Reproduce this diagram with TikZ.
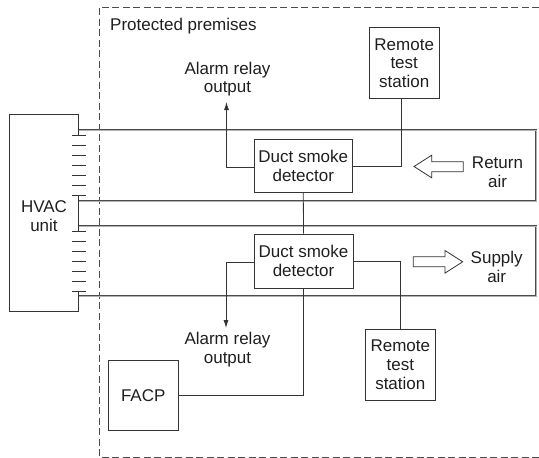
\documentclass[tikz,border=0pt]{standalone}
\usepackage{fontspec}
\setmainfont{Liberation Sans}
\usetikzlibrary{arrows.meta}
\begin{document}
\begin{tikzpicture}[x=1pt,y=-1pt,
  every node/.style={font=\fontsize{17}{18.7}\selectfont, text=black!88},
  box/.style={draw=black!80, line width=0.9pt, inner sep=0pt, align=center},
  outline/.style={draw=black!80, line width=0.9pt},
  wire/.style={draw=black!80, line width=0.8pt},
  duct/.style={draw=black!70, line width=0.45pt, double=black!30, double distance=0.9pt},
  zone/.style={draw=black!70, line width=0.9pt, dash pattern=on 7pt off 3.5pt},
  flow/.style={draw=black!80, line width=0.8pt, fill=white, line join=miter},
  lbl/.style={align=center, inner sep=0pt},
  tip/.style={-{Latex[length=8pt,width=5pt]}}
]
\useasboundingbox (0,0) rectangle (539,458);

% protected premises boundary
\draw[zone] (539,7) -- (99,7) -- (99,457) -- (539,457);
\node[anchor=base west, inner sep=0pt] (pp) at (110,30) {Protected premises};

% ducts
\draw[duct] (78,130) -- (536,130) -- (536,201) -- (78,201);
\draw[duct] (78,226) -- (536,226) -- (536,296) -- (78,296);

% HVAC unit
\node[lbl] (hvac) at (44,216.4) {HVAC\\unit};
\draw[outline] (78,135) -- (78,114) -- (9,114) -- (9,311) -- (78,311) -- (78,291);
\draw[outline] (78,195) -- (78,231);
\foreach \y in {135,145,...,195} \draw[wire] (72,\y) -- (86,\y);
\foreach \y in {231,241,...,291} \draw[wire] (72,\y) -- (86,\y);

% boxes
\node[box, minimum width=98.7, minimum height=53.7] (d1) at (303.3,165.9) {Duct smoke\\detector};
\node[box, minimum width=99, minimum height=54.3] (d2) at (303.5,261.2) {Duct smoke\\detector};
\node[box, minimum width=69.7, minimum height=70.6] (rt1) at (404.2,63) {Remote\\test\\station};
\node[box, minimum width=69.3, minimum height=70.7] (rt2) at (400.3,364.7) {Remote\\test\\station};
\node[box, minimum width=69.7, minimum height=70.7] (facp) at (143.2,395.3) {FACP};

% alarm relay outputs
\node[lbl] (out1) at (227.5,79.1) {Alarm relay\\output};
\node[lbl] (out2) at (227.5,349.6) {Alarm relay\\output};
\coordinate (t1) at (226.5,102);
\coordinate (t2) at (226,328);
\draw[wire,tip] ([yshift=-1pt]d1.west) -| (t1);
\draw[wire,tip] ([yshift=-1.5pt]d2.west) -| (t2);

% wiring
\draw[wire] (d1.east) -| ([xshift=-3pt]rt1.south);
\draw[wire] ([yshift=-0.5pt]d2.east) -| (rt2.north);
\draw[wire] (d1.south) -- (d2.north);
\draw[wire] (d2.south) |- (facp.east);

% air flow arrows
\draw[flow] (414,166.5) -- (431.7,155.2) -- (431.7,161.7) -- (463.3,161.7) -- (463.3,171.7) -- (431.7,171.7) -- (431.7,177.8) -- cycle;
\draw[flow] (413.3,256.8) -- (445,256.8) -- (445,250.5) -- (462.7,261.8) -- (445,273.1) -- (445,266.8) -- (413.3,266.8) -- cycle;
\node[lbl] (ret) at (497.5,172.5) {Return\\air};
\node[lbl] (sup) at (496.7,267.2) {Supply\\air};
\end{tikzpicture}
\end{document}
